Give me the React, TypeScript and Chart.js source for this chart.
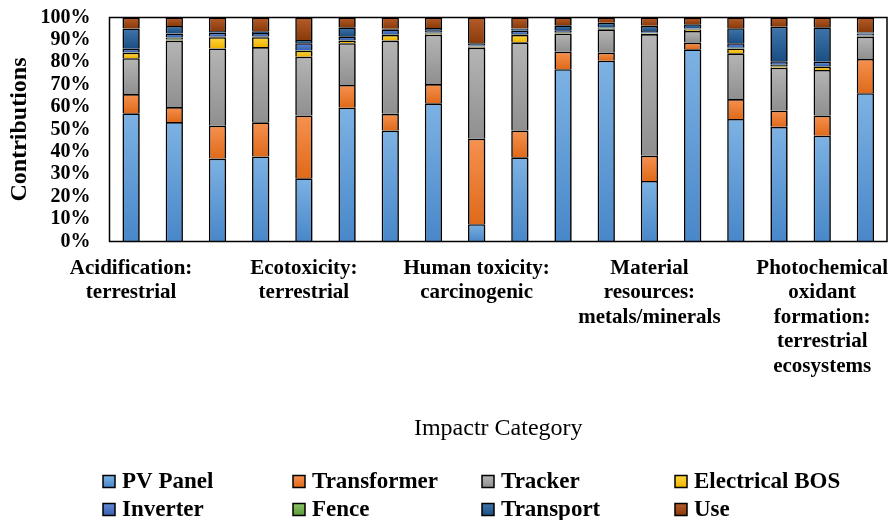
import React, { useEffect, useRef } from 'react';
import { Chart, registerables } from 'chart.js';

Chart.register(...registerables);

const categories: string[][] = [
  ['Acidification:', 'terrestrial'],
  ['Climate change'],
  ['Ecotoxicity:', 'freshwater'],
  ['Ecotoxicity:', 'marine'],
  ['Ecotoxicity:', 'terrestrial'],
  ['Energy resources:', 'non-renewable'],
  ['Eutrophication:', 'freshwater'],
  ['Eutrophication:', 'marine'],
  ['Human toxicity:', 'carcinogenic'],
  ['Human toxicity:', 'non-carcinogenic'],
  ['Ionising radiation'],
  ['Land use'],
  ['Material', 'resources:', 'metals/minerals'],
  ['Ozone depletion'],
  ['Particulate matter', 'formation'],
  ['Photochemical', 'oxidant', 'formation:', 'human health'],
  ['Photochemical', 'oxidant', 'formation:', 'terrestrial', 'ecosystems'],
  ['Water use'],
];

const pvPanel = [57.2, 53.3, 37.0, 38.0, 28.2, 59.7, 49.5, 61.7, 7.7, 37.6, 76.9, 80.7, 27.0, 85.8, 54.7, 51.2, 47.2, 66.2];
const transformer = [8.6, 6.7, 14.7, 15.2, 28.1, 10.2, 7.5, 8.6, 38.2, 11.9, 7.8, 3.6, 11.3, 3.0, 8.9, 7.2, 9.0, 15.3];
const tracker = [16.0, 29.7, 34.5, 33.6, 26.2, 18.6, 32.7, 22.0, 40.6, 39.4, 8.2, 10.4, 54.3, 5.2, 20.4, 19.2, 20.4, 9.9];
const electricalBOS = [2.5, 0.5, 5.0, 4.4, 2.7, 1.2, 2.5, 0.4, 0.3, 3.3, 0.3, 0.2, 0.3, 0.6, 2.2, 0.5, 1.4, 0.3];
const inverter = [1.5, 1.8, 1.7, 1.6, 3.0, 1.6, 2.2, 1.0, 0.4, 1.6, 0.8, 0.3, 0.8, 0.3, 2.0, 1.6, 2.0, 0.9];
const fence = [0.3, 0.9, 0.3, 0.3, 0.3, 0.3, 0.3, 0.6, 0.3, 0.3, 0.3, 0.3, 0.3, 0.3, 0.3, 0.8, 0.3, 0.3];
const transport = [9.0, 3.3, 0.8, 0.8, 1.5, 4.0, 0.3, 1.0, 1.0, 1.0, 2.2, 2.2, 2.3, 1.8, 6.7, 15.4, 15.3, 0.5];
const use = [4.9, 3.8, 6.0, 6.1, 10.0, 4.4, 5.0, 4.7, 11.5, 4.9, 3.5, 2.3, 3.7, 3.0, 4.8, 4.1, 4.4, 6.6];

const yTicks = [0, 10, 20, 30, 40, 50, 60, 70, 80, 90, 100];

// stacking order (bottom to top)
const seriesNames = ['PV Panel', 'Transformer', 'Tracker', 'Electrical BOS', 'Fence', 'Inverter', 'Transport', 'Use'];
const seriesValues = [pvPanel, transformer, tracker, electricalBOS, fence, inverter, transport, use];
const seriesTop = ['#7db2e3', '#f6914f', '#b5b5b5', '#ffd63d', '#8bc766', '#6189d6', '#3f75ab', '#b65c2b'];
const seriesBottom = ['#4887c9', '#df6a1a', '#8f8f8f', '#f0b400', '#5c9838', '#3861b0', '#1b4f84', '#8a3a09'];
const seriesBase = ['#5B9BD5', '#ED7D31', '#A5A5A5', '#FFC000', '#70AD47', '#4472C4', '#255E91', '#9E480E'];

// legend layout order (rows of 4)
const legendOrder = ['PV Panel', 'Transformer', 'Tracker', 'Electrical BOS', 'Inverter', 'Fence', 'Transport', 'Use'];

const SERIF = '"Liberation Serif", "Times New Roman", serif';

export default function App() {
  const ref = useRef<HTMLCanvasElement | null>(null);

  useEffect(() => {
    if (!ref.current) return;

    const shadowPlugin = {
      id: 'barShadow',
      beforeDatasetsDraw(chart: any) {
        const ctx = chart.ctx;
        ctx.save();
        ctx.shadowColor = 'rgba(0,0,0,0.28)';
        ctx.shadowOffsetX = 2;
        ctx.shadowOffsetY = 1;
        ctx.shadowBlur = 2;
      },
      afterDatasetsDraw(chart: any) {
        chart.ctx.restore();
        const { ctx, chartArea } = chart;
        ctx.save();
        ctx.strokeStyle = '#000';
        ctx.lineWidth = 1.5;
        ctx.strokeRect(chartArea.left, chartArea.top, chartArea.right - chartArea.left, chartArea.bottom - chartArea.top);
        ctx.restore();
      },
    };

    const legendPlugin = {
      id: 'gridLegend',
      afterDraw(chart: any) {
        const ctx = chart.ctx;
        const cols = [103, 293, 482, 675];
        const rows = [481.5, 509.5];
        ctx.save();
        ctx.font = `bold 23px ${SERIF}`;
        ctx.textBaseline = 'middle';
        ctx.textAlign = 'left';
        legendOrder.forEach((name, i) => {
          const k = seriesNames.indexOf(name);
          const x = cols[i % 4];
          const y = rows[Math.floor(i / 4)];
          const g = ctx.createLinearGradient(0, y - 6, 0, y + 6);
          g.addColorStop(0, seriesTop[k]);
          g.addColorStop(1, seriesBottom[k]);
          ctx.fillStyle = g;
          ctx.fillRect(x, y - 6, 12, 12);
          ctx.strokeStyle = '#000';
          ctx.lineWidth = 1.5;
          ctx.strokeRect(x, y - 6, 12, 12);
          ctx.fillStyle = '#000';
          ctx.fillText(name, x + 19, y + 1);
        });
        ctx.restore();
      },
    };

    const datasets = seriesNames.map((name, k) => ({
      label: name,
      data: seriesValues[k],
      borderColor: '#000',
      borderWidth: 1.6,
      barPercentage: 0.4,
      categoryPercentage: 1,
      backgroundColor: (c: any) => {
        const chart = c.chart;
        if (!chart.chartArea || c.type !== 'data' || !chart.scales.y) return seriesBase[k];
        let start = 0;
        for (let j = 0; j < k; j++) start += seriesValues[j][c.dataIndex];
        const end = start + seriesValues[k][c.dataIndex];
        const yS = chart.scales.y;
        const y0 = yS.getPixelForValue(end);
        const y1 = yS.getPixelForValue(start);
        if (!isFinite(y0) || !isFinite(y1) || y0 === y1) return seriesBase[k];
        const g = chart.ctx.createLinearGradient(0, y0, 0, y1);
        g.addColorStop(0, seriesTop[k]);
        g.addColorStop(1, seriesBottom[k]);
        return g;
      },
    }));

    const chart = new Chart(ref.current, {
      type: 'bar',
      data: { labels: categories, datasets },
      plugins: [shadowPlugin, legendPlugin],
      options: {
        animation: false,
        responsive: true,
        maintainAspectRatio: false,
        color: '#000',
        layout: { padding: { top: 17.5, right: 6, left: 0, bottom: 0 } },
        plugins: {
          legend: { display: false },
          tooltip: { enabled: false },
        },
        scales: {
          x: {
            stacked: true,
            grid: { display: false, drawTicks: false },
            border: { display: false },
            ticks: {
              autoSkip: false,
              maxRotation: 0,
              minRotation: 0,
              padding: 15,
              color: '#000',
              font: { family: SERIF, size: 21, weight: 'bold', lineHeight: 1.16 },
              callback: function (this: any, _v: any, index: number) {
                return index % 4 === 0 ? categories[index] : '';
              },
            },
            title: {
              display: true,
              text: 'Impactr Category',
              color: '#000',
              font: { family: SERIF, size: 24, weight: 'normal' },
              padding: { top: 0, bottom: 77 },
            },
            afterFit: (s: any) => {
              s.height = 278.5;
            },
          },
          y: {
            stacked: true,
            min: 0,
            max: 100,
            grid: {
              display: true,
              drawOnChartArea: false,
              drawTicks: true,
              tickLength: 19,
              color: 'rgba(0,0,0,0)',
            },
            border: { display: false },
            afterBuildTicks: (s: any) => {
              s.ticks = yTicks.map((v) => ({ value: v }));
            },
            ticks: {
              autoSkip: false,
              padding: 0,
              color: '#000',
              font: { family: SERIF, size: 20, weight: 'bold' },
              callback: (v: any) => `${v}%`,
            },
            title: {
              display: true,
              text: 'Contributions',
              color: '#000',
              font: { family: SERIF, size: 24, weight: 'bold' },
              padding: { top: 5, bottom: 0 },
            },
            afterFit: (s: any) => {
              s.width = 109.5;
            },
          },
        },
      },
    } as any);

    return () => chart.destroy();
  }, []);

  return (
    <div style={{ position: 'fixed', left: 0, top: 0, width: 893, height: 520, background: '#fff' }}>
      <canvas ref={ref} />
    </div>
  );
}
